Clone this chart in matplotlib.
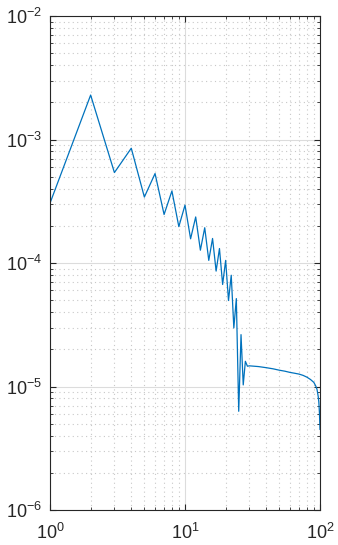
import numpy as np
import matplotlib
matplotlib.use("Agg")
import matplotlib.pyplot as plt
from matplotlib.ticker import LogLocator, NullFormatter, FixedLocator

plt.rcParams["font.family"] = ["Liberation Sans", "DejaVu Sans"]
plt.rcParams["mathtext.fontset"] = "custom"
plt.rcParams["mathtext.rm"] = "Liberation Sans"
plt.rcParams["mathtext.it"] = "Liberation Sans:italic"
plt.rcParams["mathtext.bf"] = "Liberation Sans:bold"

# Response magnitude: integer samples through the oscillating region,
# then a smooth tail out to x = 100
x_vals = [1, 2, 3, 4, 5, 6, 7, 8, 9, 10,
          11, 12, 13, 14, 15, 16, 17, 18, 19, 20,
          21, 22, 23, 24, 25, 26, 27, 28, 29, 30,
          35, 40, 45, 50, 55, 60, 65, 70, 75, 80,
          85, 90, 93, 95, 97, 98, 99, 100]
y_vals = [3.05e-4, 2.29e-3, 5.4e-4, 8.5e-4, 3.42e-4, 5.3e-4, 2.47e-4, 3.83e-4, 1.97e-4, 2.94e-4,
          1.57e-4, 2.36e-4, 1.27e-4, 1.93e-4, 1.05e-4, 1.58e-4, 8.6e-5, 1.31e-4, 6.7e-5, 1.05e-4,
          4.97e-5, 7.96e-5, 2.98e-5, 5.15e-5, 6.3e-6, 2.63e-5, 1.03e-5, 1.6e-5, 1.46e-5, 1.47e-5,
          1.45e-5, 1.42e-5, 1.39e-5, 1.355e-5, 1.33e-5, 1.30e-5, 1.28e-5, 1.26e-5, 1.23e-5, 1.19e-5,
          1.14e-5, 1.08e-5, 1.01e-5, 9.5e-6, 8.3e-6, 7.5e-6, 6.2e-6, 4.5e-6]

x_ticks = [1, 10, 100]
y_ticks = [1e-6, 1e-5, 1e-4, 1e-3, 1e-2]
x_tick_labels = [r"$10^{0}$", r"$10^{1}$", r"$10^{2}$"]
y_tick_labels = [r"$10^{-6}$", r"$10^{-5}$", r"$10^{-4}$", r"$10^{-3}$", r"$10^{-2}$"]

axis_color = "#262626"
line_color = "#0072BD"

fig = plt.figure(figsize=(3.38, 5.45), dpi=100)
ax = fig.add_axes([50 / 338, 35 / 545, 270 / 338, 494 / 545])

ax.loglog(x_vals, y_vals, color=line_color, linewidth=0.9)

ax.set_xlim(1, 100)
ax.set_ylim(1e-6, 1e-2)

ax.xaxis.set_major_locator(FixedLocator(x_ticks))
ax.yaxis.set_major_locator(FixedLocator(y_ticks))
ax.set_xticklabels(x_tick_labels)
ax.set_yticklabels(y_tick_labels)
ax.xaxis.set_minor_locator(LogLocator(base=10, subs=np.arange(2, 10)))
ax.yaxis.set_minor_locator(LogLocator(base=10, subs=np.arange(2, 10)))
ax.xaxis.set_minor_formatter(NullFormatter())
ax.yaxis.set_minor_formatter(NullFormatter())

ax.grid(True, which="major", color="#dcdcdc", linestyle="-", linewidth=0.8)
ax.grid(True, which="minor", color="#c8c8c8", linestyle=(0, (1, 3)), linewidth=0.8)
ax.set_axisbelow(True)

ax.tick_params(which="both", direction="in", top=True, right=True,
               colors=axis_color, labelcolor="#262626", labelsize=13)
ax.tick_params(which="major", length=4, width=0.8)
ax.tick_params(which="minor", length=2.5, width=0.6)
ax.tick_params(axis="x", which="major", pad=9.5)
ax.tick_params(axis="y", which="major", pad=5.8)

for spine in ax.spines.values():
    spine.set_color(axis_color)
    spine.set_linewidth(0.8)

fig.savefig("out.png", dpi=100)
